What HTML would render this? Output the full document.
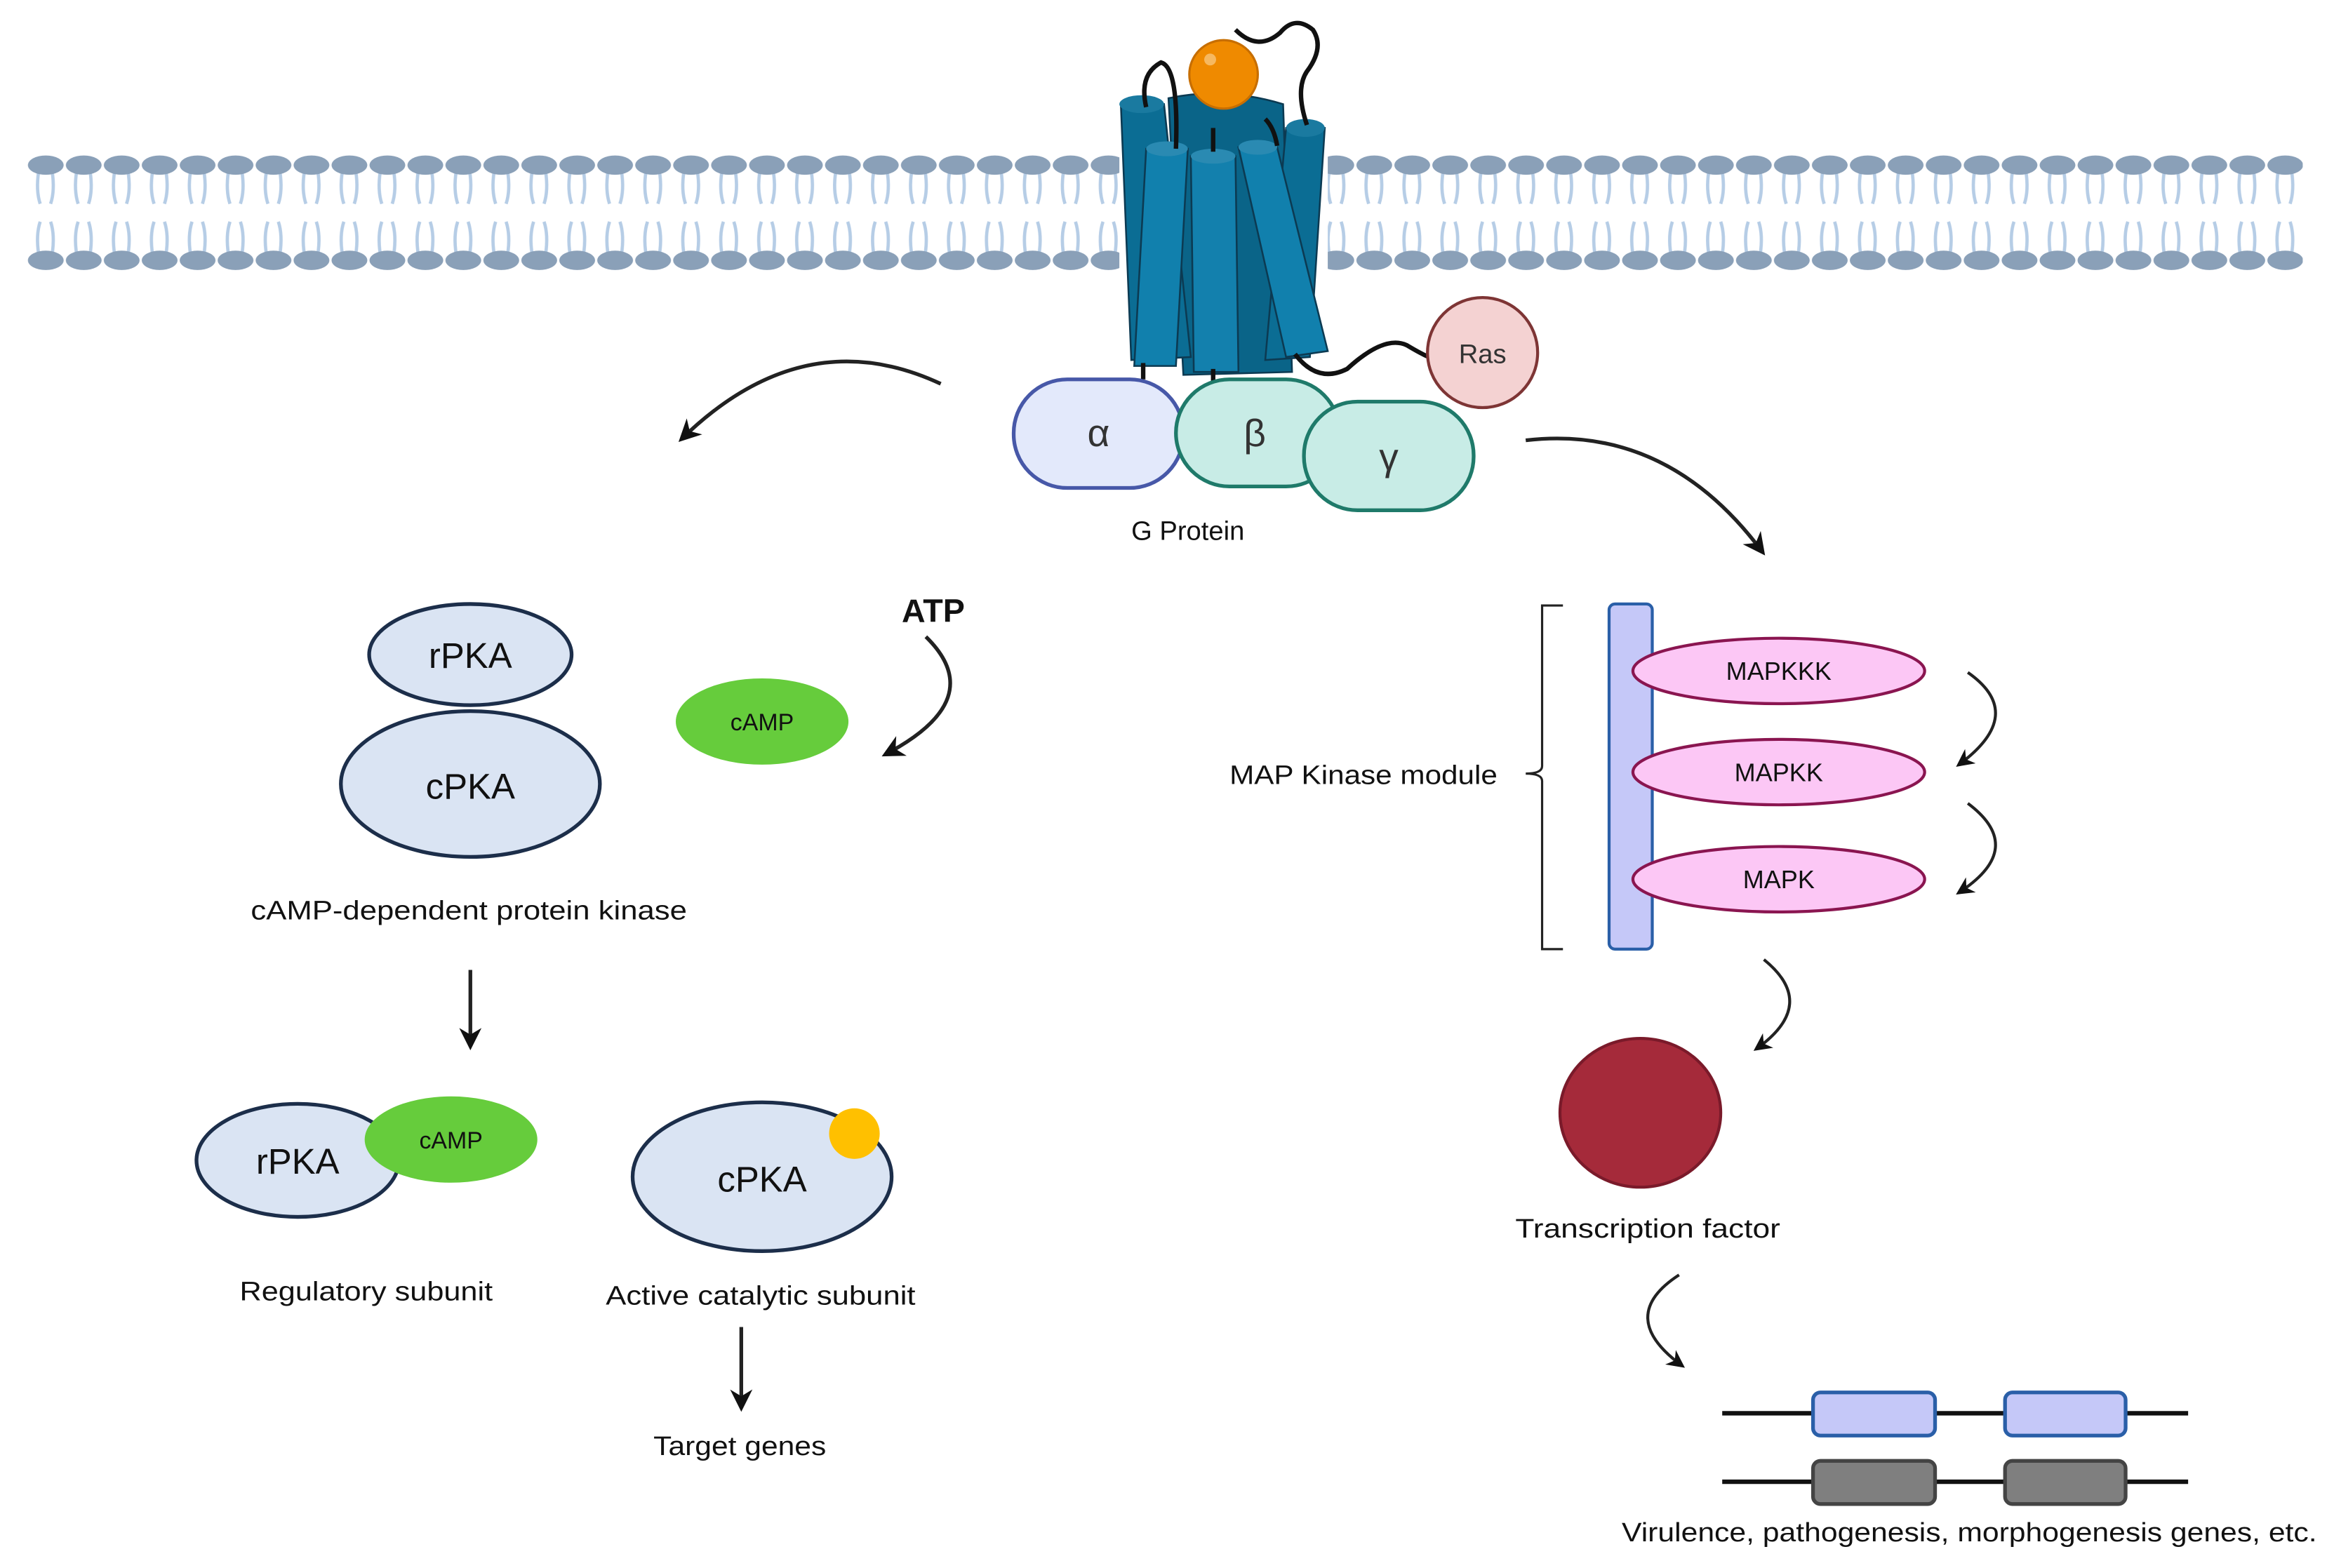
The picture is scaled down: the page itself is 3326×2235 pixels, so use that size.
<!DOCTYPE html>
<html><head><meta charset="utf-8"><style>html,body{margin:0;padding:0;background:#fff}svg{display:block}</style></head>
<body>
<svg xmlns="http://www.w3.org/2000/svg" width="3326" height="2235" viewBox="0 0 1568 1054" preserveAspectRatio="none" font-family="Liberation Sans, DejaVu Sans, sans-serif">
<defs>
<pattern id="lip" patternUnits="userSpaceOnUse" x="18" y="0" width="25.5" height="1054">
<path d="M8,115 Q6,128 9,137 M17,115 Q19,128 16,137 M8,171 Q6,158 9,149 M17,171 Q19,158 16,149" stroke="#b6cde6" stroke-width="2.2" fill="none"/>
<ellipse cx="12.75" cy="111" rx="12" ry="6.5" fill="#8aa0b8"/>
<ellipse cx="12.75" cy="175" rx="12" ry="6.5" fill="#8aa0b8"/>
</pattern>
<marker id="ah" viewBox="0 0 10 10" refX="8" refY="5" markerWidth="6" markerHeight="6" orient="auto"><path d="M0,0 L10,5 L0,10 L3,5z" fill="#111"/></marker>
</defs>
<rect x="0" y="0" width="1568" height="1054" fill="#fff"/>
<rect x="18" y="100" width="1529" height="86" fill="url(#lip)"/>
<rect x="752" y="95" width="140" height="95" fill="#fff"/>

<!-- receptor -->
<g stroke="#0c3a52" stroke-width="1.2">
<path d="M785,66 Q822,58 862,70 L868,250 L795,252z" fill="#0a6488"/>
<path d="M753,70 L782,70 L800,240 L760,242z" fill="#0b6d94"/>
<path d="M864,86 L890,86 L880,240 L850,242z" fill="#0b6d94"/>
<path d="M770,100 L798,100 L790,246 L762,246z" fill="#1180ad"/>
<path d="M832,99 L858,99 L892,236 L864,240z" fill="#1180ad"/>
<path d="M800,105 L830,105 L832,250 L802,250z" fill="#1380ad"/>
</g>
<ellipse cx="767" cy="70" rx="15" ry="6" fill="#1a7aa0"/>
<ellipse cx="877" cy="86" rx="13" ry="6" fill="#1a7aa0"/>
<ellipse cx="784" cy="100" rx="14" ry="5" fill="#2a8ab2"/>
<ellipse cx="845" cy="99" rx="13" ry="5" fill="#2a8ab2"/>
<ellipse cx="815" cy="105" rx="15" ry="5" fill="#2a8ab2"/>
<g stroke="#111" stroke-width="3" fill="none">
<path d="M770,72 Q765,50 780,42 Q792,45 790,100"/>
<path d="M815,102 L815,86"/>
<path d="M850,80 Q856,86 858,98"/>
<path d="M878,84 Q870,60 878,48 Q890,32 882,20 Q870,10 860,22 Q845,35 830,20"/>
<path d="M768,244 L768,255"/>
<path d="M815,248 L815,256"/>
<path d="M870,238 Q885,258 905,248 Q930,225 945,232 Q955,238 960,240"/>
</g>
<circle cx="822" cy="50" r="23" fill="#ef8a00" stroke="#c76e00" stroke-width="1.5"/>
<circle cx="813" cy="40" r="4" fill="#f6b860"/>

<!-- Ras -->
<circle cx="996" cy="237" r="37" fill="#f4d2d2" stroke="#7e3535" stroke-width="2"/>
<text x="996" y="244" font-size="18" text-anchor="middle" fill="#333">Ras</text>

<!-- G protein -->
<rect x="681" y="255" width="114" height="73" rx="36" fill="#e3e9fb" stroke="#4758a8" stroke-width="2.5"/>
<rect x="790" y="255" width="110" height="72" rx="36" fill="#c8ece6" stroke="#1f7a6a" stroke-width="2.5"/>
<rect x="876" y="270" width="114" height="73" rx="36" fill="#c8ece6" stroke="#1f7a6a" stroke-width="2.5"/>
<text x="738" y="300" font-size="26" text-anchor="middle" fill="#333">α</text>
<text x="843" y="300" font-size="26" text-anchor="middle" fill="#333">β</text>
<text x="933" y="316" font-size="26" text-anchor="middle" fill="#333">γ</text>
<text x="798" y="363" font-size="18" text-anchor="middle" fill="#111">G Protein</text>

<!-- big arrows -->
<path d="M632,258 Q540,215 458,295" stroke="#222" stroke-width="2.5" fill="none" marker-end="url(#ah)"/>
<path d="M1025,296 Q1120,285 1184,371" stroke="#222" stroke-width="2.5" fill="none" marker-end="url(#ah)"/>

<!-- PKA complex -->
<ellipse cx="316" cy="440" rx="68" ry="34" fill="#dae4f3" stroke="#1c2e4a" stroke-width="2.5"/>
<ellipse cx="316" cy="527" rx="87" ry="49" fill="#dae4f3" stroke="#1c2e4a" stroke-width="2.5"/>
<text x="316" y="449" font-size="24" text-anchor="middle" fill="#111">rPKA</text>
<text x="316" y="537" font-size="24" text-anchor="middle" fill="#111">cPKA</text>
<ellipse cx="512" cy="485" rx="58" ry="29" fill="#66cc3c"/>
<text x="512" y="491" font-size="16" text-anchor="middle" fill="#111">cAMP</text>
<text x="627" y="418" font-size="22" font-weight="bold" text-anchor="middle" fill="#111">ATP</text>
<path d="M622,428 Q665,470 595,507" stroke="#222" stroke-width="2.5" fill="none" marker-end="url(#ah)"/>
<text x="315" y="618" font-size="18" text-anchor="middle" fill="#111" textLength="293" lengthAdjust="spacingAndGlyphs">cAMP-dependent protein kinase</text>
<path d="M316,652 L316,703" stroke="#222" stroke-width="2.5" marker-end="url(#ah)"/>

<ellipse cx="200" cy="780" rx="68" ry="38" fill="#dae4f3" stroke="#1c2e4a" stroke-width="2.5"/>
<ellipse cx="303" cy="766" rx="58" ry="29" fill="#66cc3c"/>
<text x="200" y="789" font-size="24" text-anchor="middle" fill="#111">rPKA</text>
<text x="303" y="772" font-size="16" text-anchor="middle" fill="#111">cAMP</text>
<ellipse cx="512" cy="791" rx="87" ry="50" fill="#dae4f3" stroke="#1c2e4a" stroke-width="2.5"/>
<circle cx="574" cy="762" r="17" fill="#ffc000"/>
<text x="512" y="801" font-size="24" text-anchor="middle" fill="#111">cPKA</text>
<text x="246" y="874" font-size="18" text-anchor="middle" fill="#111" textLength="170" lengthAdjust="spacingAndGlyphs">Regulatory subunit</text>
<text x="511" y="877" font-size="18" text-anchor="middle" fill="#111" textLength="208" lengthAdjust="spacingAndGlyphs">Active catalytic subunit</text>
<path d="M498,892 L498,946" stroke="#222" stroke-width="2.5" marker-end="url(#ah)"/>
<text x="497" y="978" font-size="18" text-anchor="middle" fill="#111" textLength="116" lengthAdjust="spacingAndGlyphs">Target genes</text>

<!-- MAP kinase module -->
<path d="M1050,407 L1036,407 L1036,515 Q1036,520 1025,520 Q1036,520 1036,525 L1036,638 L1050,638" stroke="#222" stroke-width="1.5" fill="none"/>
<text x="1006" y="527" font-size="18" text-anchor="end" fill="#111" textLength="180" lengthAdjust="spacingAndGlyphs">MAP Kinase module</text>
<rect x="1081" y="406" width="29" height="232" rx="4" fill="#c5c8f8" stroke="#2a5fa8" stroke-width="2"/>
<g fill="#fcc7f5" stroke="#8a1550" stroke-width="2">
<ellipse cx="1195" cy="451" rx="98" ry="22"/>
<ellipse cx="1195" cy="519" rx="98" ry="22"/>
<ellipse cx="1195" cy="591" rx="98" ry="22"/>
</g>
<text x="1195" y="457" font-size="17" text-anchor="middle" fill="#111">MAPKKK</text>
<text x="1195" y="525" font-size="17" text-anchor="middle" fill="#111">MAPKK</text>
<text x="1195" y="597" font-size="17" text-anchor="middle" fill="#111">MAPK</text>
<path d="M1322,452 Q1362,480 1316,514" stroke="#222" stroke-width="2" fill="none" marker-end="url(#ah)"/>
<path d="M1322,540 Q1362,570 1316,600" stroke="#222" stroke-width="2" fill="none" marker-end="url(#ah)"/>
<path d="M1185,645 Q1222,675 1180,705" stroke="#222" stroke-width="2" fill="none" marker-end="url(#ah)"/>

<ellipse cx="1102" cy="748" rx="54" ry="50" fill="#a52a3a" stroke="#7a1a2a" stroke-width="2"/>
<text x="1107" y="832" font-size="18" text-anchor="middle" fill="#111" textLength="178" lengthAdjust="spacingAndGlyphs">Transcription factor</text>
<path d="M1128,857 Q1085,885 1130,918" stroke="#222" stroke-width="2" fill="none" marker-end="url(#ah)"/>

<!-- DNA -->
<path d="M1157,950 L1470,950 M1157,996 L1470,996" stroke="#111" stroke-width="3"/>
<rect x="1218" y="936" width="82" height="29" rx="5" fill="#c5c8f8" stroke="#2a5fa8" stroke-width="2.5"/>
<rect x="1347" y="936" width="81" height="29" rx="5" fill="#c5c8f8" stroke="#2a5fa8" stroke-width="2.5"/>
<rect x="1218" y="982" width="82" height="29" rx="5" fill="#7f7f7f" stroke="#444" stroke-width="2.5"/>
<rect x="1347" y="982" width="81" height="29" rx="5" fill="#7f7f7f" stroke="#444" stroke-width="2.5"/>
<text x="1323" y="1036" font-size="18" text-anchor="middle" fill="#111" textLength="467" lengthAdjust="spacingAndGlyphs">Virulence, pathogenesis, morphogenesis genes, etc.</text>
</svg>
</body></html>
